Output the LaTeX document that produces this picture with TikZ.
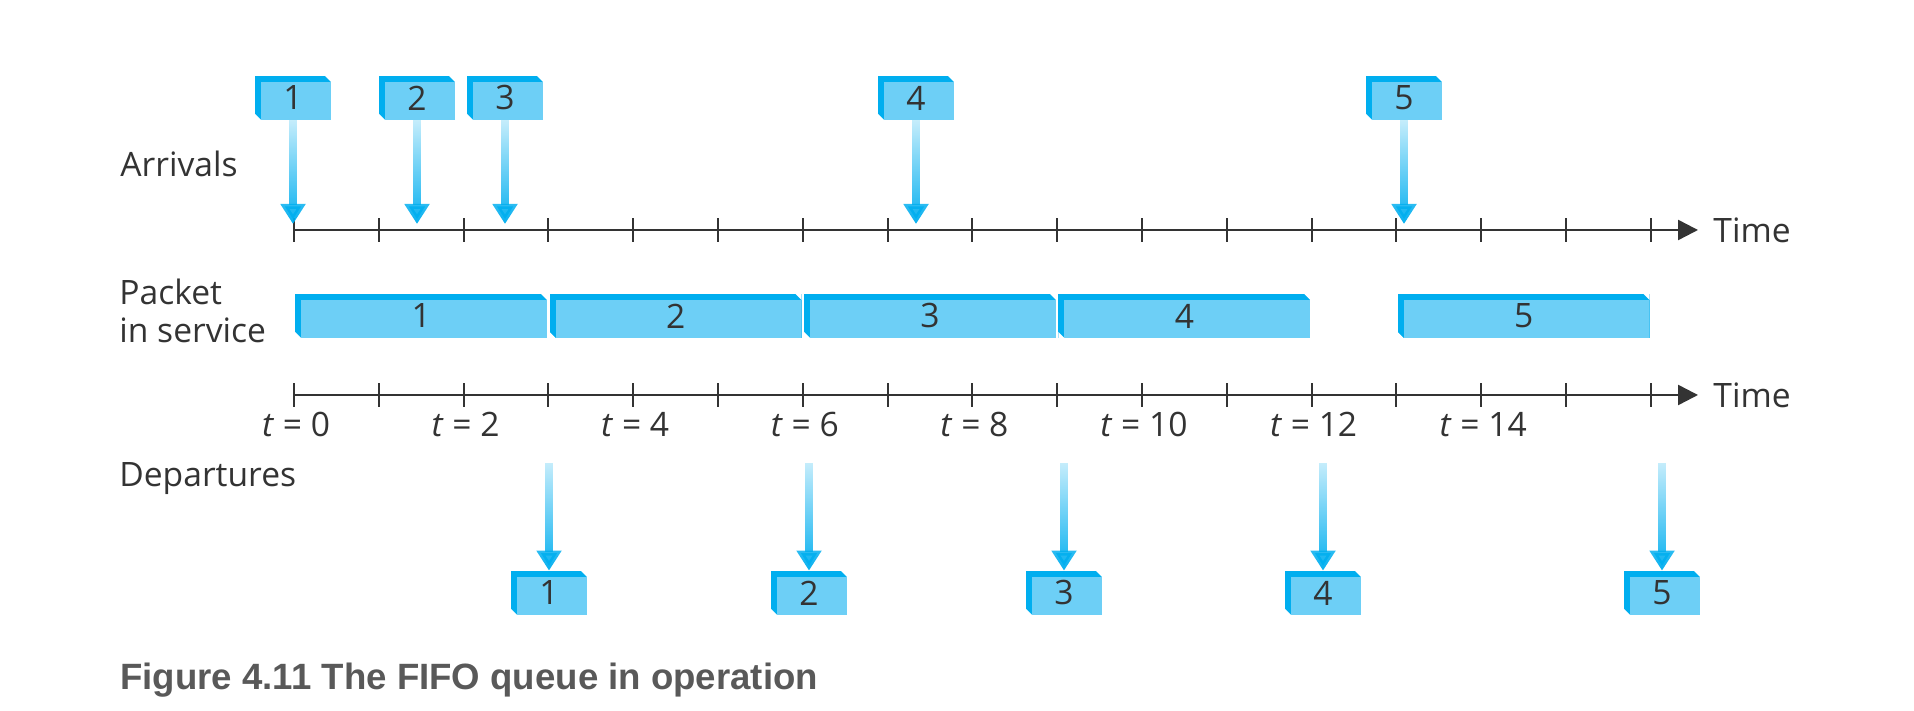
\documentclass[tikz,border=0pt]{standalone}
\usepackage{fontspec}
\setmainfont{Open Sans}
\newfontfamily\capfont{Liberation Sans}
\usetikzlibrary{arrows.meta,fadings}
\definecolor{pktLight}{HTML}{6DCFF6}
\definecolor{pktDark}{HTML}{00AEEF}
\definecolor{inkGray}{HTML}{333333}
\definecolor{capGray}{HTML}{595959}
\tikzfading[name=arrowFade, top color=transparent!80, middle color=transparent!0, bottom color=transparent!0]
\tikzstyle{pktBox}=[rectangle, fill=pktDark, inner sep=0pt, minimum width=38pt, minimum height=22pt, text=inkGray, font=\fontsize{16.8}{19}\selectfont, path picture={
  \fill[pktLight] ([shift={(3pt,-3pt)}]path picture bounding box.north west) rectangle (path picture bounding box.south east);
  \fill[white] (path picture bounding box.north east) -- ++(-3pt,0) -- ++(3pt,-3pt) -- cycle;
  \fill[white] (path picture bounding box.south west) -- ++(3pt,0) -- ++(-3pt,3pt) -- cycle;}]
\tikzstyle{pktBar}=[pktBox, minimum width=126pt]
\tikzstyle{pktArrow}=[pktDark, line width=4pt, -{Triangle[length=10pt,width=12pt]}, path fading=arrowFade]
\tikzstyle{timeAxis}=[inkGray, line width=1.2pt, -{Triangle[length=10pt,width=10pt]}]
\tikzstyle{tickLine}=[inkGray, line width=1pt]
\tikzstyle{rowLabel}=[inner sep=0pt, anchor=base west, text=inkGray, font=\fontsize{16.8}{19}\selectfont]

\begin{document}
\begin{tikzpicture}[x=0.5pt, y=0.5pt]
\useasboundingbox (0,0) rectangle (1914,711);
\node[rowLabel] (arrLabel) at (120,534) {Arrivals};
\node[rowLabel, align=left] (srvLabel) at (119,368) {Packet\\in service};
\node[rowLabel] (depLabel) at (119,224) {Departures};
\coordinate (up0) at (294,481);
\coordinate (lo0) at (294,316);
\node[rowLabel, anchor=west, inner xsep=7.5pt] (upTime) at (1698,481) {Time};
\node[rowLabel, anchor=west, inner xsep=7.5pt] (loTime) at (1698,316) {Time};
\draw[timeAxis] (up0) -- (upTime);
\draw[timeAxis] (lo0) -- (loTime);
\foreach \t in {0,...,16} {
  \draw[tickLine] (294+84.8*\t,469) -- ++(0,24);
  \draw[tickLine] (294+84.8*\t,304) -- ++(0,24);
}
\node[rowLabel, anchor=base] (t0) at (296,274) {\textit{t} = 0};
\node[rowLabel, anchor=base] (t2) at (465.6,274) {\textit{t} = 2};
\node[rowLabel, anchor=base] (t4) at (635.2,274) {\textit{t} = 4};
\node[rowLabel, anchor=base] (t6) at (804.8,274) {\textit{t} = 6};
\node[rowLabel, anchor=base] (t8) at (974.4,274) {\textit{t} = 8};
\node[rowLabel, anchor=base] (t10) at (1144,274) {\textit{t} = 10};
\node[rowLabel, anchor=base] (t12) at (1313.6,274) {\textit{t} = 12};
\node[rowLabel, anchor=base] (t14) at (1483.2,274) {\textit{t} = 14};
\node[pktBox] (a1) at (293,613) {1};
\node[pktBox] (a2) at (417,613) {2};
\node[pktBox] (a3) at (505,613) {3};
\node[pktBox] (a4) at (916,613) {4};
\node[pktBox] (a5) at (1404,613) {5};
\coordinate (ta1) at (293,487);
\coordinate (ta2) at (417,487);
\coordinate (ta3) at (505,487);
\coordinate (ta4) at (916,487);
\coordinate (ta5) at (1404,487);
\draw[pktArrow] ([xshift=-8pt]ta1) ([xshift=8pt]ta1) (a1) -- (ta1);
\draw[pktArrow] ([xshift=-8pt]ta2) ([xshift=8pt]ta2) (a2) -- (ta2);
\draw[pktArrow] ([xshift=-8pt]ta3) ([xshift=8pt]ta3) (a3) -- (ta3);
\draw[pktArrow] ([xshift=-8pt]ta4) ([xshift=8pt]ta4) (a4) -- (ta4);
\draw[pktArrow] ([xshift=-8pt]ta5) ([xshift=8pt]ta5) (a5) -- (ta5);
\node[pktBar] (s1) at (421.2,395) {1};
\node[pktBar] (s2) at (675.6,395) {2};
\node[pktBar] (s3) at (930,395) {3};
\node[pktBar] (s4) at (1184.4,395) {4};
\node[pktBar] (s5) at (1523.6,395) {5};
\coordinate (dt1) at (549,248);
\coordinate (dt2) at (809,248);
\coordinate (dt3) at (1064,248);
\coordinate (dt4) at (1323,248);
\coordinate (dt5) at (1662,248);
\node[pktBox] (d1) at (549,118) {1};
\node[pktBox] (d2) at (809,118) {2};
\node[pktBox] (d3) at (1064,118) {3};
\node[pktBox] (d4) at (1323,118) {4};
\node[pktBox] (d5) at (1662,118) {5};
\draw[pktArrow] ([xshift=-8pt]dt1) ([xshift=8pt]dt1) (dt1) -- (d1);
\draw[pktArrow] ([xshift=-8pt]dt2) ([xshift=8pt]dt2) (dt2) -- (d2);
\draw[pktArrow] ([xshift=-8pt]dt3) ([xshift=8pt]dt3) (dt3) -- (d3);
\draw[pktArrow] ([xshift=-8pt]dt4) ([xshift=8pt]dt4) (dt4) -- (d4);
\draw[pktArrow] ([xshift=-8pt]dt5) ([xshift=8pt]dt5) (dt5) -- (d5);
\node[inner sep=0pt, anchor=base west, text=capGray, font=\capfont\bfseries\fontsize{18.3}{22}\selectfont] (caption) at (120,21) {Figure 4.11 The FIFO queue in operation};
\end{tikzpicture}
\end{document}
